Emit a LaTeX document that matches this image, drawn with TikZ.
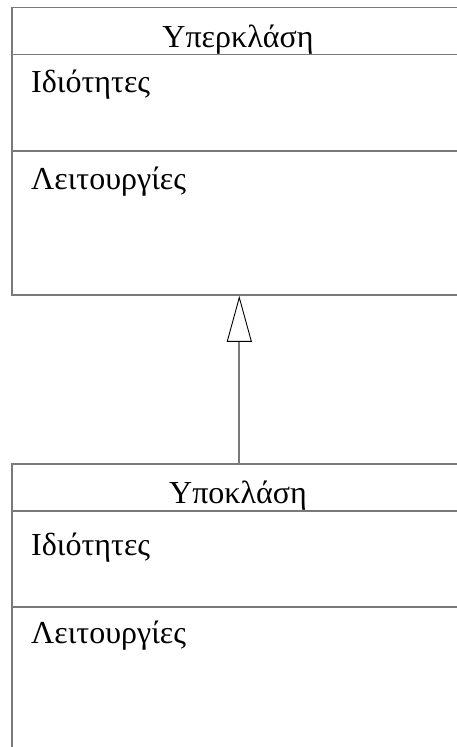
\documentclass[tikz,border=0pt]{standalone}
\usepackage{fontspec}
\setmainfont{Liberation Serif}
\usetikzlibrary{arrows.meta}
\definecolor{edgegray}{HTML}{7A7A7A}
\tikzset{
  classbox/.style={draw=edgegray, line width=1.8pt, rectangle, anchor=north west,
    minimum width=456pt, inner sep=0pt},
  cls/.style={font=\fontsize{32}{34}\selectfont, anchor=base, inner sep=0pt},
  member/.style={font=\fontsize{32}{34}\selectfont, anchor=base west, inner sep=0pt},
  sepline/.style={draw=edgegray, line width=1.8pt},
  inherit/.style={draw=edgegray, line width=1.8pt,
    -{Triangle[open, length=46pt, width=25pt, color=black, line width=0.9pt]}}
}
\begin{document}
\begin{tikzpicture}[x=1pt,y=1pt]
\useasboundingbox (0,0) rectangle (457,-747);
\clip (0,0) rectangle (457,-747);
\fill[white] (0,0) rectangle (457,-747);
% superclass
\node[classbox, minimum height=287.5pt] (sup) at (11,-6.5) {};
\draw[sepline] (11,-54.5) coordinate (s1a) -- (s1a -| sup.east);
\draw[sepline] (11,-150.7) coordinate (s2a) -- (s2a -| sup.east);
\node[cls] (suptitle) at (238,-47) {Υπερκλάση};
\node[member] (supattr) at (31,-92) {Ιδιότητες};
\node[member] (supops) at (31,-189) {Λειτουργίες};
% subclass
\node[classbox, minimum height=400pt] (sub) at (11,-462.7) {};
\draw[sepline] (11,-511) coordinate (t1a) -- (t1a -| sub.east);
\draw[sepline] (11,-606.7) coordinate (t2a) -- (t2a -| sub.east);
\node[cls] (subtitle) at (238,-503) {Υποκλάση};
\node[member] (subattr) at (31,-555) {Ιδιότητες};
\node[member] (subops) at (31,-643) {Λειτουργίες};
% generalisation
\coordinate (gstart) at (239.3,-462.7);
\draw[inherit] (gstart) -- (gstart |- sup.south);
\end{tikzpicture}
\end{document}
